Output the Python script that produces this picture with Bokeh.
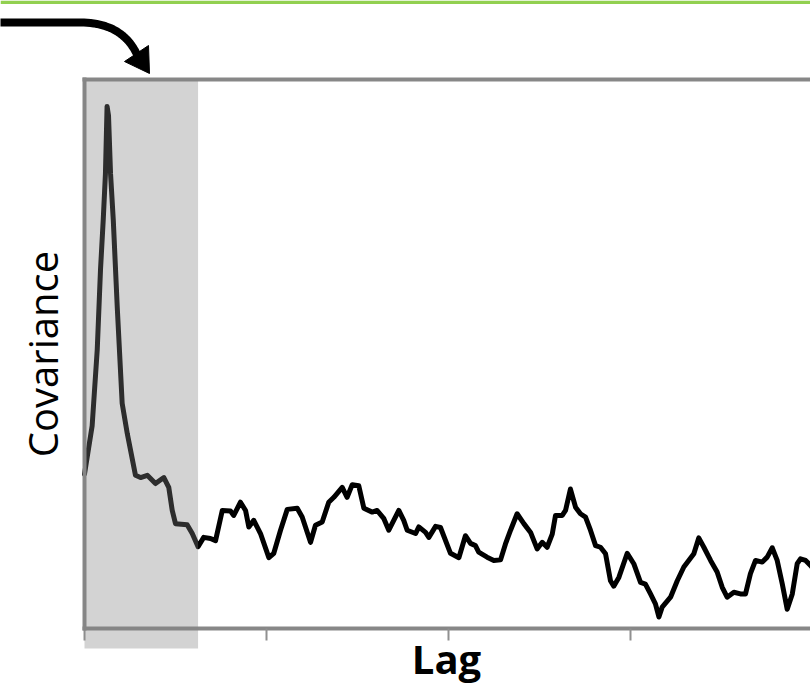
from bokeh.plotting import figure
from bokeh.models import Range1d, FixedTicker, LinearAxis, BoxAnnotation, PolyAnnotation, ColumnDataSource
from bokeh.embed import file_html
from bokeh.resources import INLINE

# ---------------- data ----------------
lag = [0, 4.2, 7.0, 8.8, 10.3, 11.5, 12.4, 13.2, 14.3, 15.8,
       18.0, 20.7, 23.5, 28.0, 30.8, 34.5, 39.0, 43.6, 46.3, 48.2,
       50.0, 56.4, 59.2, 62.4, 65.5, 69.2, 72.0, 75.7, 80.2, 82.0,
       85.7, 88.5, 90.3, 93.0, 96.7, 101.3, 104.0, 107.7, 111.4, 116.9,
       119.6, 124.2, 126.9, 130.6, 134.2, 137.0, 141.6, 144.3, 147.1, 150.7,
       153.5, 158.1, 160.8, 164.5, 167.2, 172.7, 175.4, 177.3, 181.9, 183.7,
       187.4, 189.2, 192.9, 195.6, 201.1, 205.7, 209.3, 212.1, 214.8, 216.6,
       221.2, 224.9, 228.6, 231.3, 234.1, 237.7, 241.4, 245.1, 248.7, 251.5,
       254.2, 257.0, 258.8, 262.5, 264.3, 267.0, 269.8, 272.5, 275.3, 278.0,
       280.8, 283.5, 286.3, 289.0, 290.8, 293.6, 298.2, 301.8, 305.5, 308.2,
       311.0, 313.7, 315.6, 317.4, 322.0, 325.7, 329.3, 334.8, 337.5, 340.3,
       344.0, 347.6, 350.4, 353.1, 356.8, 360.4, 363.2, 365.9, 368.7, 372.4,
       375.1, 377.9, 380.6, 383.4, 386.1, 388.9, 391.6, 393.4, 396.2, 398.9,
       401.6]
covariance = [28.1, 36.9, 50.8, 65.4, 74.5, 82.8, 95.1, 93.4, 82.9, 74.5,
              58.5, 41.0, 35.5, 27.9, 27.5, 27.9, 26.4, 27.5, 25.7, 21.5,
              19.1, 18.9, 17.3, 14.9, 16.6, 16.4, 16.0, 21.5, 21.4, 20.6,
              23.0, 21.5, 18.5, 19.7, 17.3, 12.9, 13.7, 17.9, 21.7, 21.9,
              20.3, 15.7, 18.8, 19.4, 23.0, 23.9, 25.7, 23.9, 26.2, 26.0,
              21.9, 21.2, 21.5, 20.0, 17.9, 21.5, 19.7, 17.9, 17.3, 18.5,
              17.5, 16.6, 18.6, 18.4, 13.7, 12.9, 16.9, 15.5, 15.1, 13.9,
              13.0, 12.4, 12.5, 15.4, 17.9, 20.9, 19.1, 17.5, 14.5, 15.7,
              14.8, 17.2, 20.6, 20.6, 21.5, 25.4, 22.1, 20.9, 20.3, 17.9,
              15.1, 14.8, 13.6, 8.7, 7.7, 9.3, 13.7, 11.8, 8.4, 8.1,
              6.3, 4.5, 2.1, 3.9, 5.7, 8.7, 11.2, 13.6, 16.5, 14.8,
              12.4, 10.3, 7.5, 5.7, 6.6, 6.3, 6.3, 10.0, 12.4, 12.1,
              13.0, 14.7, 12.4, 8.1, 3.5, 6.3, 11.8, 12.7, 12.4, 11.5,
              10.4]
lag_ticks = [0, 100, 200, 300, 400]
window_start = 0
window_end = 62.4
x_label = "Lag"
y_label = "Covariance"

# ---------------- layout geometry (canvas pixels) ----------------
W, H = 810, 685
FRAME_L, FRAME_T, FRAME_B = 84, 79, 628
X_PER_PX = 100 / 182.0          # one tick interval = 182 px
Y_END = 100.0
SY = (FRAME_B - FRAME_T) / Y_END


def dx(px):
    return (px - FRAME_L) * X_PER_PX


def dy(py):
    return (FRAME_B - py) / SY


p = figure(width=W, height=H, output_backend="svg", toolbar_location=None,
           x_range=Range1d(dx(0), dx(W)), y_range=Range1d(dy(H), dy(0)),
           x_axis_type=None, y_axis_type=None,
           min_border_left=0, min_border_right=0, min_border_top=0, min_border_bottom=0)
p.outline_line_color = None
p.background_fill_color = "white"
p.border_fill_color = "white"

AX = "#878787"
X_MAX = dx(W + 10)

xaxis = LinearAxis(ticker=FixedTicker(ticks=lag_ticks), axis_label=x_label,
                   fixed_location=0, bounds=(dx(FRAME_L - 2), X_MAX))
xaxis.axis_line_color = AX
xaxis.axis_line_width = 4
xaxis.major_tick_line_color = "#909090"
xaxis.major_tick_line_width = 2
xaxis.major_tick_out = 12
xaxis.major_tick_in = 0
xaxis.minor_tick_line_color = None
xaxis.major_label_overrides = {t: "" for t in lag_ticks}
xaxis.major_label_standoff = 0
xaxis.axis_label_text_font = "Open Sans"
xaxis.axis_label_text_font_size = "40px"
xaxis.axis_label_text_font_style = "bold"
xaxis.axis_label_text_color = "black"
xaxis.axis_label_standoff = -10
p.add_layout(xaxis, "below")

yaxis = LinearAxis(ticker=FixedTicker(ticks=[]), axis_label=y_label,
                   fixed_location=0, bounds=(dy(FRAME_B + 2), dy(FRAME_T - 2)))
yaxis.axis_line_color = AX
yaxis.axis_line_width = 4
yaxis.major_tick_line_color = None
yaxis.minor_tick_line_color = None
yaxis.major_label_standoff = 0
yaxis.axis_label_text_font = "Open Sans"
yaxis.axis_label_text_font_size = "40px"
yaxis.axis_label_text_font_style = "normal"
yaxis.axis_label_text_color = "black"
yaxis.axis_label_standoff = 15
p.add_layout(yaxis, "left")

topaxis = LinearAxis(ticker=FixedTicker(ticks=[]), fixed_location=Y_END,
                     bounds=(dx(FRAME_L - 2), X_MAX))
topaxis.axis_line_color = AX
topaxis.axis_line_width = 4
topaxis.major_tick_line_color = None
topaxis.minor_tick_line_color = None
topaxis.major_label_standoff = 0
p.add_layout(topaxis, "above")

src = ColumnDataSource(data=dict(lag=lag, cov=covariance))
p.line("lag", "cov", source=src, line_color="black", line_width=5,
       line_join="round", line_cap="round")

# shaded lag window (drawn over the curve, extends below the axis)
band = BoxAnnotation(left=window_start, right=window_end, top=dy(FRAME_T + 1), bottom=dy(648),
                     fill_color="#808080", fill_alpha=0.35, line_color=None,
                     level="annotation")
p.add_layout(band)

# green rule at top of page
green = BoxAnnotation(left=dx(0), right=dx(W), top=dy(0), bottom=dy(3.5),
                      fill_color="#92D050", fill_alpha=1.0, line_color=None)
p.add_layout(green)

# curved arrow pointing to the window
P0, P1, P2 = (80.0, 22.0), (122.0, 22.0), (137.0, 55.0)
pts = [(0.0, 22.0)]
for i in range(25):
    s = i / 24
    pts.append(((1 - s) ** 2 * P0[0] + 2 * (1 - s) * s * P1[0] + s * s * P2[0],
                (1 - s) ** 2 * P0[1] + 2 * (1 - s) * s * P1[1] + s * s * P2[1]))
path = pts + pts[::-1]
curve = PolyAnnotation(xs=[dx(x) for x, _ in path], ys=[dy(y) for _, y in path],
                       fill_color=None, fill_alpha=0, line_color="black", line_alpha=1.0,
                       line_width=8, line_join="round")
p.add_layout(curve)
head = PolyAnnotation(xs=[dx(124), dx(148), dx(149)], ys=[dy(61), dy(45), dy(73)],
                      fill_color="black", fill_alpha=1.0, line_color="black", line_alpha=1.0,
                      line_width=1)
p.add_layout(head)

open("out.html", "w").write(file_html(p, INLINE))
